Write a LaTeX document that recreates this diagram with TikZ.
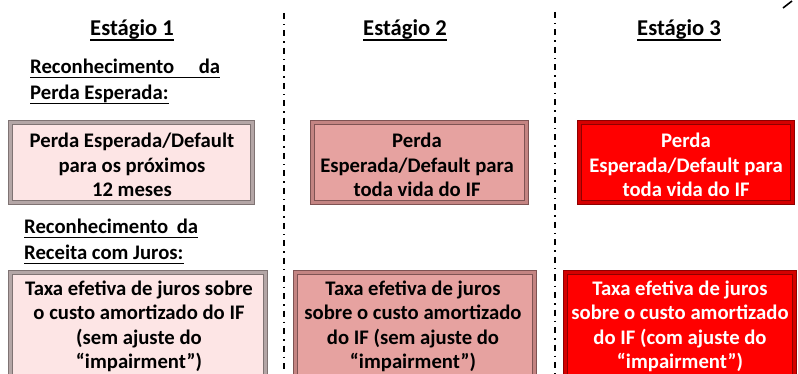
\documentclass[tikz,border=0pt]{standalone}
\usepackage{fontspec}
\setmainfont{Carlito}
\begin{document}
\begin{tikzpicture}[x=1pt,y=-1pt,
  txt/.style={font=\bfseries\fontsize{20.7}{24.5}\selectfont, inner sep=0pt, align=center},
  hdr/.style={font=\bfseries\fontsize{22.6}{26}\selectfont, inner sep=0pt, anchor=base},
  sub/.style={font=\bfseries\fontsize{20.7}{24.5}\selectfont, inner sep=0pt, anchor=base west},
  ul/.style={line width=1.5pt},
  sep/.style={line width=1.3pt, dash pattern=on 6pt off 5pt on 1.5pt off 5pt}]
\definecolor{pinkfill}{HTML}{FDE5E5}
\definecolor{pinkedge}{HTML}{B4A6A6}
\definecolor{pinkdark}{HTML}{7F7373}
\definecolor{midfill}{HTML}{E6A2A0}
\definecolor{midedge}{HTML}{C48482}
\definecolor{middark}{HTML}{7F5353}
\definecolor{redfill}{HTML}{FF0000}
\definecolor{rededge}{HTML}{D40000}
\definecolor{reddark}{HTML}{8F0000}
\useasboundingbox (0,0) rectangle (798,374);
\clip (0,0) rectangle (798,374);

% separators
\coordinate (s1t) at (284,13); \coordinate (s1b) at (284,374);
\coordinate (s2t) at (555,12); \coordinate (s2b) at (555,374);
\draw[sep] (s1t) -- (s1b);
\draw[sep] (s2t) -- (s2b);

% top-right mark
\coordinate (m1) at (783,8); \coordinate (m2) at (792,1);
\draw[line width=1.6pt] (m1) -- (m2);

% headers
\foreach \n/\x/\t in {h1/132/Estágio 1, h2/405/Estágio 2, h3/679/Estágio 3}{
  \node[hdr] (\n) at (\x,36) {\t};
  \draw[ul] ([yshift=-4pt]\n.base west) -- ([yshift=-4pt]\n.base east);
}

% sub headers
\node[sub] (r1) at (30,74) {\makebox[190pt][s]{Reconhecimento da}};
\node[sub] (r2) at (30,100) {Perda Esperada:};
\node[sub] (r3) at (24,234) {\makebox[174pt][s]{Reconhecimento da}};
\node[sub] (r4) at (24,260) {Receita com Juros:};
\foreach \n in {r1,r2,r3,r4}{
  \draw[ul] ([yshift=-3.5pt]\n.base west) -- ([yshift=-3.5pt]\n.base east);
}

% boxes
\newcommand{\bevbox}[7]{% name, x1,y1,x2,y2, fill, edge/dark prefix
  \fill[#6] (#2,#3) rectangle (#4,#5);
  \draw[#7edge, line width=3pt] (#2+2.5,#3+2.5) rectangle (#4-2.5,#5-2.5);
  \draw[#7dark, line width=0.8pt] (#2+4.2,#3+4.2) rectangle (#4-4.2,#5-4.2);
  \draw[#7dark, line width=0.8pt] (#2+0.4,#3+0.4) rectangle (#4-0.4,#5-0.4);
  \coordinate (#1) at ({(#2+#4)/2},{(#3+#5)/2});
}
\bevbox{b1}{8}{120}{255}{205}{pinkfill}{pink}
\bevbox{b2}{310}{120}{529}{205}{midfill}{mid}
\bevbox{b3}{577}{120}{795}{205}{redfill}{red}
\bevbox{b4}{8}{270}{268}{400}{pinkfill}{pink}
\bevbox{b5}{293}{270}{537}{400}{midfill}{mid}
\bevbox{b6}{563}{270}{797}{400}{redfill}{red}

\node[txt] (t1) at (132,165) {Perda Esperada/Default\\para os próximos\\12 meses};
\node[txt] (t2) at (417,165) {Perda\\Esperada/Default para\\toda vida do IF};
\node[txt, text=white] (t3) at (686,165) {Perda\\Esperada/Default para\\toda vida do IF};
\node[txt] (t4) at (139,326.5) {Taxa efetiva de juros sobre\\o custo amortizado do IF\\(sem ajuste do\\“impairment”)};
\node[txt] (t5) at (413,326.5) {Taxa efetiva de juros\\sobre o custo amortizado\\do IF (sem ajuste do\\“impairment”)};
\node[txt, text=white] (t6) at (680,326.5) {Taxa efetiva de juros\\sobre o custo amortizado\\do IF (com ajuste do\\“impairment”)};
\end{tikzpicture}
\end{document}
